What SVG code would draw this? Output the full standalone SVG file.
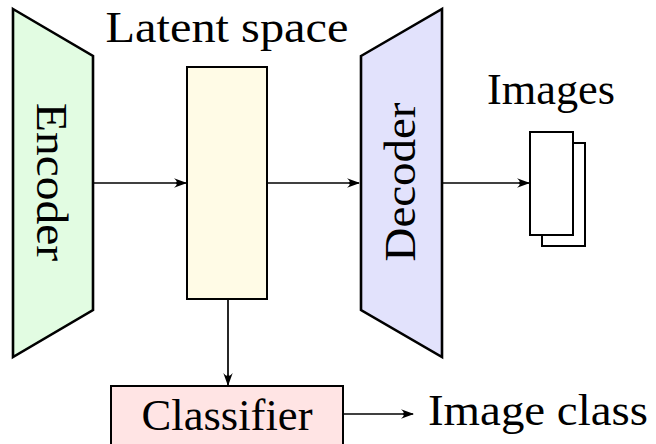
<svg xmlns="http://www.w3.org/2000/svg" width="656" height="444" viewBox="0 0 656 444">
  <style>
    .lbl { font-family: "Liberation Serif", "DejaVu Serif", serif; font-size: 44px; fill: #000; }
    .blk { stroke: #000; stroke-width: 2.6; stroke-linejoin: miter; }
    .box { stroke: #000; stroke-width: 2; }
    .conn { stroke: #000; stroke-width: 1.7; fill: none; marker-end: url(#tip); }
  </style>
  <defs>
    <marker id="tip" viewBox="0 0 13 11" refX="12" refY="5.5" markerWidth="13" markerHeight="11" markerUnits="userSpaceOnUse" orient="auto">
      <path d="M0,0.8 Q4.5,4.5 1.5,5.5 Q4.5,6.5 0,10.2 L13,5.5 Z" fill="#000"/>
    </marker>
  </defs>

  <g id="connectors">
    <line class="conn" x1="93" y1="183" x2="186" y2="183"/>
    <line class="conn" x1="267" y1="183" x2="359" y2="183"/>
    <line class="conn" x1="442" y1="183" x2="529" y2="183"/>
    <line class="conn" x1="228" y1="299" x2="228" y2="385"/>
    <line class="conn" x1="343" y1="414" x2="413" y2="414"/>
  </g>

  <g id="encoder">
    <polygon class="blk" points="13,9 93,56 93,310 13,357" fill="#e2fce2"/>
    <text class="lbl" transform="translate(37,182) rotate(90)" text-anchor="middle" textLength="158" lengthAdjust="spacingAndGlyphs">Encoder</text>
  </g>

  <g id="latent">
    <rect class="box" x="187" y="67" width="80" height="232" fill="#fffbe6"/>
    <text class="lbl" x="227" y="42" text-anchor="middle" textLength="243" lengthAdjust="spacingAndGlyphs">Latent space</text>
  </g>

  <g id="decoder">
    <polygon class="blk" points="361,56 442,9 442,357 361,310" fill="#e2e2fc"/>
    <text class="lbl" transform="translate(415,182) rotate(-90)" text-anchor="middle" textLength="159" lengthAdjust="spacingAndGlyphs">Decoder</text>
  </g>

  <g id="images">
    <rect class="box" x="542" y="143" width="43" height="103" fill="#fff"/>
    <rect class="box" x="530" y="132" width="43" height="103" fill="#fff"/>
    <text class="lbl" x="551" y="104" text-anchor="middle" textLength="128" lengthAdjust="spacingAndGlyphs">Images</text>
  </g>

  <g id="classifier">
    <rect class="box" x="111" y="386" width="232" height="70" fill="#ffe4e4"/>
    <text class="lbl" x="227" y="430" text-anchor="middle" textLength="171" lengthAdjust="spacingAndGlyphs">Classifier</text>
  </g>

  <g id="image-class">
    <text class="lbl" x="428" y="425" textLength="220" lengthAdjust="spacingAndGlyphs">Image class</text>
  </g>
</svg>
